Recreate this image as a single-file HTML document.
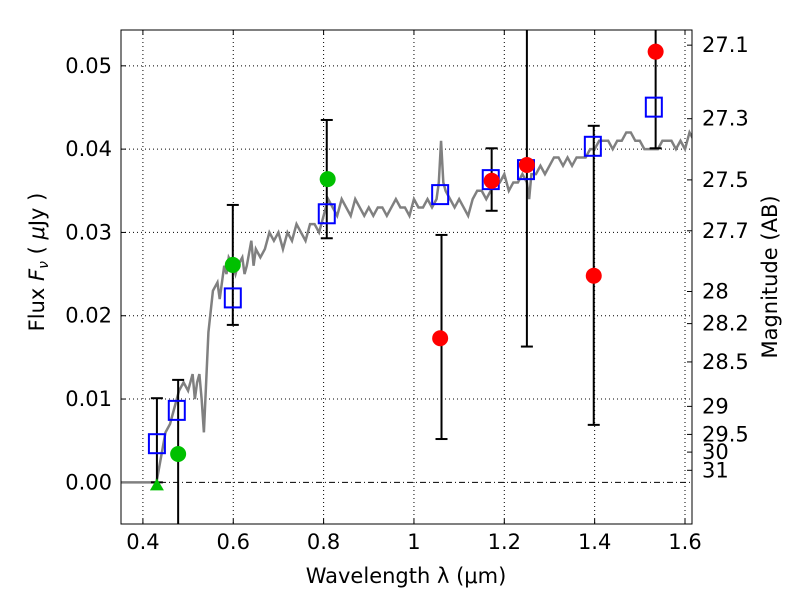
<!DOCTYPE html>
<html><head><meta charset="utf-8"><style>
body{margin:0;background:#fff}
text{font-family:"DejaVu Sans","Liberation Sans",sans-serif;fill:#000}
</style></head><body>
<svg id="c" width="800" height="600" xmlns="http://www.w3.org/2000/svg"></svg>
<script>
const specLam=[0.35,0.43,0.44,0.45,0.46,0.47,0.48,0.49,0.50,0.51,0.515,0.52,0.525,0.53,0.535,0.545,0.555,0.565,0.57,0.58,0.585,0.59,0.60,0.605,0.61,0.62,0.625,0.63,0.64,0.645,0.65,0.66,0.67,0.68,0.69,0.70,0.71,0.72,0.73,0.74,0.75,0.76,0.77,0.78,0.79,0.80,0.81,0.82,0.83,0.84,0.85,0.86,0.87,0.88,0.89,0.90,0.91,0.92,0.93,0.94,0.95,0.96,0.97,0.98,0.99,1.00,1.01,1.02,1.03,1.04,1.05,1.055,1.06,1.065,1.07,1.08,1.09,1.10,1.11,1.12,1.13,1.14,1.15,1.16,1.17,1.18,1.19,1.20,1.21,1.22,1.23,1.24,1.25,1.255,1.26,1.27,1.28,1.29,1.30,1.31,1.32,1.33,1.34,1.35,1.36,1.37,1.38,1.39,1.40,1.41,1.42,1.43,1.44,1.45,1.46,1.47,1.48,1.49,1.50,1.51,1.52,1.53,1.54,1.55,1.56,1.57,1.58,1.59,1.60,1.61,1.62];
const specFlux=[0,0,0.003,0.006,0.007,0.009,0.011,0.012,0.011,0.013,0.010,0.012,0.013,0.010,0.006,0.018,0.023,0.024,0.022,0.026,0.025,0.027,0.026,0.025,0.026,0.027,0.025,0.026,0.029,0.026,0.028,0.027,0.028,0.030,0.029,0.030,0.028,0.030,0.029,0.031,0.030,0.029,0.031,0.031,0.030,0.032,0.034,0.033,0.032,0.034,0.033,0.032,0.034,0.033,0.032,0.033,0.032,0.033,0.033,0.032,0.033,0.034,0.033,0.033,0.032,0.034,0.033,0.033,0.034,0.033,0.034,0.036,0.041,0.036,0.035,0.034,0.033,0.034,0.033,0.032,0.034,0.035,0.035,0.034,0.035,0.036,0.036,0.037,0.035,0.036,0.036,0.037,0.036,0.034,0.037,0.037,0.038,0.037,0.038,0.039,0.039,0.038,0.039,0.038,0.039,0.039,0.039,0.040,0.040,0.041,0.041,0.041,0.040,0.041,0.041,0.042,0.042,0.041,0.041,0.040,0.040,0.040,0.040,0.041,0.041,0.041,0.040,0.041,0.040,0.042,0.041];
const boxLam=[0.431,0.475,0.599,0.807,1.058,1.170,1.248,1.396,1.531];
const boxFlux=[0.0047,0.0087,0.0222,0.0323,0.0346,0.0364,0.0376,0.0404,0.0451];
const greenLam=[0.478,0.599,0.809];
const greenFlux=[0.0034,0.0261,0.0364];
const triLam=[0.431];
const triFlux=[0.0];
const redLam=[1.058,1.172,1.250,1.398,1.535];
const redFlux=[0.0173,0.0362,0.0381,0.0248,0.0517];
const errLam=[0.431,0.478,0.599,0.807,1.061,1.172,1.250,1.398,1.535];
const errLo=[0.0,-0.01,0.0189,0.0293,0.0052,0.0326,0.0163,0.0069,0.0401];
const errHi=[0.0101,0.0123,0.0333,0.0435,0.0297,0.0401,0.08,0.0428,0.08];
const xTicks=[0.4,0.6,0.8,1.0,1.2,1.4,1.6];
const xTickLabels=["0.4","0.6","0.8","1","1.2","1.4","1.6"];
const yTicks=[0,0.01,0.02,0.03,0.04,0.05];
const yTickLabels=["0.00","0.01","0.02","0.03","0.04","0.05"];
const magTicks=[27.1,27.3,27.5,27.7,28,28.2,28.5,29,29.5,30,31];

const L=121,R=692,T=30,B=524;
const x0=0.3515,x1=1.6155,y0=-0.0050,y1=0.0543;
const X=v=>L+(v-x0)/(x1-x0)*(R-L);
const Y=v=>B-(v-y0)/(y1-y0)*(B-T);
const svg=document.getElementById('c');
const NS='http://www.w3.org/2000/svg';
function mk(t,a,p){const e=document.createElementNS(NS,t);for(const k in a)e.setAttribute(k,a[k]);(p||svg).appendChild(e);return e;}
const clip=mk('clipPath',{id:'pc'});mk('rect',{x:L,y:T,width:R-L,height:B-T},clip);
xTicks.forEach((v,i)=>{const g=mk('line',{x1:X(v),x2:X(v),y1:T,y2:B,stroke:'#000','stroke-width':1,'stroke-dasharray':'1,3'});


mk('line',{x1:X(v),x2:X(v),y1:B,y2:B-5,stroke:'#000'});mk('line',{x1:X(v),x2:X(v),y1:T,y2:T+5,stroke:'#000'});
const t=mk('text',{x:X(v),y:B+25,'text-anchor':'middle','font-size':21});t.textContent=xTickLabels[i];

});
yTicks.forEach((v,i)=>{const g=mk('line',{x1:L,x2:R,y1:Y(v),y2:Y(v),stroke:'#000','stroke-width':1,'stroke-dasharray':v===0?'6,3,1,3':'1,3'});


mk('line',{x1:L,x2:L+5,y1:Y(v),y2:Y(v),stroke:'#000'});
const t=mk('text',{x:L-9,y:Y(v)+7,'text-anchor':'end','font-size':21});t.textContent=yTickLabels[i];

});
magTicks.forEach(m=>{const f=Math.pow(10,(23.9-m)/2.5);const y=Y(f);
mk('line',{x1:R-5,x2:R,y1:y,y2:y,stroke:'#000'});
const t=mk('text',{x:R+10,y:y+7,'font-size':21});t.textContent=String(m);

});
const g=mk('g',{'clip-path':'url(#pc)'});
const sp=mk('polyline',{points:specLam.map((l,i)=>X(l)+','+Y(specFlux[i])).join(' '),fill:'none',stroke:'#808080','stroke-width':2.5},g);


errLam.forEach((l,i)=>{const x=X(l),a=Y(errLo[i]),b=Y(errHi[i]);
const e=mk('line',{x1:x,x2:x,y1:a,y2:b,stroke:'#000','stroke-width':2},g);


if(errLo[i]>y0)mk('line',{x1:x-6,x2:x+6,y1:a,y2:a,stroke:'#000','stroke-width':2},g);
if(errHi[i]<y1)mk('line',{x1:x-6,x2:x+6,y1:b,y2:b,stroke:'#000','stroke-width':2},g);});
boxLam.forEach((l,i)=>{const r=mk('rect',{x:X(l)-8,y:Y(boxFlux[i])-9,width:16,height:19,fill:'none',stroke:'#00f','stroke-width':2},g);

});
greenLam.forEach((l,i)=>{const c=mk('circle',{cx:X(l),cy:Y(greenFlux[i]),r:8,fill:'#00c000'},g);

});
triLam.forEach((l,i)=>{const x=X(l),y=Y(triFlux[i]);const p=mk('polygon',{points:`${x-7},${y+8} ${x+7},${y+8} ${x},${y-4}`,fill:'#00c000'},g);

});
redLam.forEach((l,i)=>{const c=mk('circle',{cx:X(l),cy:Y(redFlux[i]),r:8,fill:'#f00'},g);

});
const fr=mk('rect',{x:L,y:T,width:R-L,height:B-T,fill:'none',stroke:'#000','stroke-width':1});


const xl=mk('text',{x:406,y:583,'text-anchor':'middle','font-size':21});xl.textContent='Wavelength  λ (μm)';


const yl=mk('text',{x:44,y:262,'text-anchor':'middle','font-size':21,transform:'rotate(-90 44 262)'});yl.innerHTML='Flux  <tspan font-style="italic">F</tspan><tspan font-size="14" font-style="italic" dy="4">ν</tspan><tspan dy="-4">  ( </tspan><tspan font-style="italic">μ</tspan>Jy )';


const ml=mk('text',{x:777,y:277,'text-anchor':'middle','font-size':21,transform:'rotate(-90 777 277)'});ml.textContent='Magnitude (AB)';


</script>
</body></html>
